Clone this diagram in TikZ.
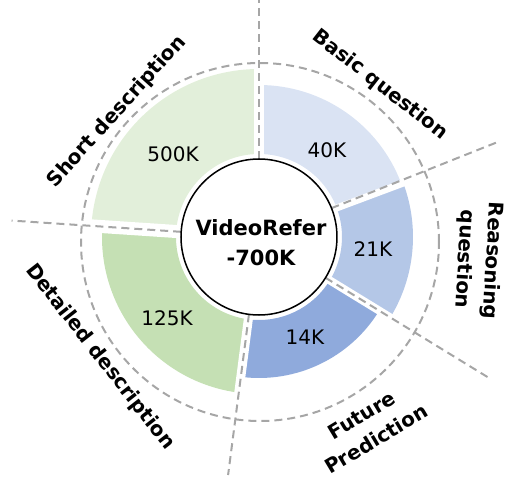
\documentclass[tikz,border=0pt]{standalone}
\usepackage{fontspec}
\setmainfont{DejaVu Sans}
\begin{document}
\begin{tikzpicture}[x=1pt,y=1pt]
        \definecolor{shortcolor}{HTML}{E2EFDA}
        \definecolor{detailcolor}{HTML}{C5E0B4}
        \definecolor{basiccolor}{HTML}{DAE3F3}
        \definecolor{reasoncolor}{HTML}{B4C7E7}
        \definecolor{futurecolor}{HTML}{8FAADC}
        \definecolor{gridgray}{HTML}{A6A6A6}
        \tikzset{
            grid line/.style={color=gridgray, line width=2pt, dash pattern=on 8pt off 5pt},
            gap line/.style={white, line width=9pt},
            count/.style={font=\fontsize{20}{24}\selectfont},
            part/.style={font=\fontsize{20}{28}\selectfont\bfseries, align=center},
        }
        \useasboundingbox (-259,-242) rectangle (250,237);

            \begin{scope}
                \fill[fill=shortcolor] (90:83) arc (90:176.2:83) -- (176.2:168) arc (176.2:90:168) -- cycle;
                \fill[fill=detailcolor] (176.2:83) arc (176.2:262.6:83) -- (262.6:157) arc (262.6:176.2:157) -- cycle;
                \fill[fill=futurecolor] (262.6:83) arc (262.6:328.5:83) -- (328.5:141) arc (328.5:262.6:141) -- cycle;
                \fill[fill=reasoncolor] (-31.5:83) arc (-31.5:20.5:83) -- (20.5:154) arc (20.5:-31.5:154) -- cycle;
                \fill[fill=basiccolor] (20.5:83) arc (20.5:90:83) -- (90:152) arc (90:20.5:152) -- cycle;
            \end{scope}
            \draw[gap line, line width=10pt] (90:76) -- (90:172);
            \draw[gap line, line width=13pt] (176.2:76) -- (176.2:172);
            \draw[gap line] (262.6:76) -- (262.6:172);
            \draw[gap line, line width=8pt] (-31.5:76) -- (-31.5:172);
            \draw[gap line, line width=7pt] (20.5:76) -- (20.5:172);

            \draw[grid line] (1,-5) circle (179);
            \draw[grid line] (90:78) -- (90:237);
            \draw[grid line] (176.2:78) -- (176.2:248);
            \draw[grid line] (262.6:78) -- (262.6:240);
            \draw[grid line] (21.7:78) -- (21.7:258);
            \draw[grid line] (-31.5:78) -- (-31.5:268);

            \draw[line width=1.5pt, fill=white] (0,0) circle (78);
            \node[part, font=\fontsize{21}{30}\selectfont\bfseries] (total) at (2,-6) {VideoRefer\\-700K};

            \node[count] (nshort) at (-86,83) {500K};
            \node[count] (nbasic) at (68,87) {40K};
            \node[count] (nreason) at (114,-12) {21K};
            \node[count] (nfuture) at (46,-100) {14K};
            \node[count] (ndetail) at (-92,-81) {125K};

            \node[part, rotate=48] (lshort) at (-142,125) {Short description};
            \node[part, rotate=-38] (lbasic) at (121,152) {Basic question};
            \node[part, rotate=-93] (lreason) at (219,-23) {Reasoning\\question};
            \node[part, rotate=31] (lfuture) at (110,-190) {Future\\Prediction};
            \node[part, rotate=-52] (ldetail) at (-159,-120) {Detailed description};

        \end{tikzpicture}
\end{document}
